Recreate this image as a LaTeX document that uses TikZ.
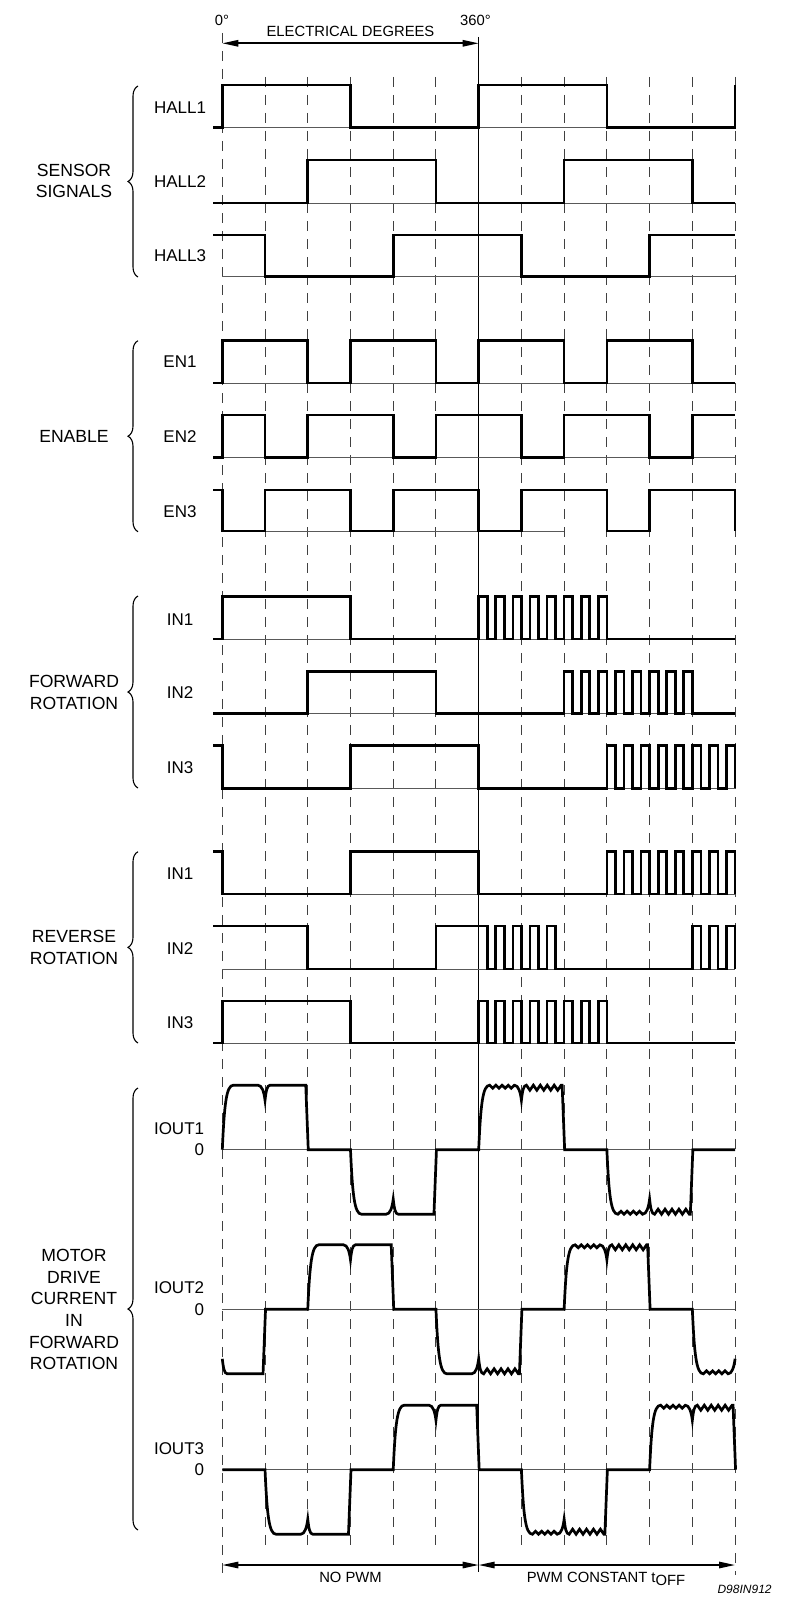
\documentclass[tikz,border=0pt]{standalone}
\usepackage{fontspec}
\setmainfont{Liberation Sans}
\usetikzlibrary{arrows.meta,decorations.pathreplacing}

% grid position of step k (60 electrical degrees per step)
\newcommand\X[1]{(222.3+42.73*(#1))}
\def\A{64.5}
\def\hp{8.546}
\def\za{1149.7}
\def\zb{1309.3}
\def\zc{1469.7}

% digital pulse train: #1 start step, #2 number of high pulses, #3 high y, #4 low y
\newcommand\Pwm[4]{\foreach \i in {1,...,#2}{ -| ({\X{#1}+(2*\i-2)*\hp},#3) -| ({\X{#1}+(2*\i-1)*\hp},#4) }}

% current pieces: k, sign (1 up / -1 down), zero level
\newcommand\Rise[3]{ .. controls ({\X{#1}+2},{#3-(#2)*0.7*\A}) and ({\X{#1}+4},{#3-(#2)*\A}) .. ({\X{#1}+11},{#3-(#2)*\A})}
\newcommand\DipA[3]{ -- ({\X{#1}-7},{#3-(#2)*\A}) .. controls ({\X{#1}-3},{#3-(#2)*\A}) and ({\X{#1}-1},{#3-(#2)*(\A-7)}) .. ({\X{#1}},{#3-(#2)*(\A-15)})}
\newcommand\DipB[3]{ .. controls ({\X{#1}+1},{#3-(#2)*(\A-6)}) and ({\X{#1}+2},{#3-(#2)*\A}) .. ({\X{#1}+5},{#3-(#2)*\A})}
\newcommand\Dip[3]{\DipA{#1}{#2}{#3}\DipB{#1}{#2}{#3}}
\newcommand\Fall[3]{ -- ({\X{#1}-2},{#3-(#2)*\A}) -- ({\X{#1}+0.5},#3)}
% ripple: x start, x end, teeth, amplitude, sign, zero level
\newcommand\Rip[6]{ -- ({#1},{#6-(#5)*\A}) \foreach \i in {1,...,#3}{ -- ++({((#2)-(#1))/(2*#3)},{(#5)*(#4)}) -- ++({((#2)-(#1))/(2*#3)},{-(#5)*(#4)}) }}

\tikzset{
  wave/.style={line width=1.35pt},
  baseln/.style={line width=0.5pt, black!65},
  gridln/.style={line width=0.5pt, black!75, dash pattern=on 5pt off 4pt},
  refln/.style={line width=0.5pt, black},
  lbl/.style={font=\fontsize{8.5}{10.2}\selectfont, inner sep=0pt, align=center},
  grp/.style={font=\fontsize{8.8}{10.83}\selectfont, inner sep=0pt, align=center},
  dimlbl/.style={font=\fontsize{7.4}{9}\selectfont, inner sep=0pt, align=center},
  brc/.style={decorate, decoration={brace, amplitude=5pt}, line width=0.55pt},
  dim/.style={line width=0.8pt, {Triangle[length=8pt,width=3.2pt]}-{Triangle[length=8pt,width=3.2pt]}},
}

\begin{document}
\begin{tikzpicture}[x=0.5pt,y=-0.5pt]
\useasboundingbox (0,0) rectangle (788,1600);
\fill[white] (0,0) rectangle (788,1600);

% ---------- grid ----------
\foreach \k in {1,2,3,4,5,7,8,9,10,11}
  \draw[gridln] ({\X{\k}},77) -- ({\X{\k}},1552);
\draw[gridln] ({\X{0}},33) -- ({\X{0}},1575);
\draw[gridln] ({\X{12}},77) -- ({\X{12}},1575);
\draw[refln] ({\X{6}},37) -- ({\X{6}},1572);

% ---------- top dimension ----------
\node[dimlbl] (t0) at (222,20.5) {0°};
\node[dimlbl] (t360) at (475.5,20.5) {360°};
\node[dimlbl] (ed) at (350.5,31) {ELECTRICAL DEGREES};
\coordinate (a0) at ({\X{0}},43.3);
\coordinate (a6) at ({\X{6}},43.3);
\draw[dim] (a0) -- (a6);

% ---------- baselines ----------
\foreach \y in {127.5,203,276.5,383,457.5,639,713.5,788.3,894,969,1043}
  \draw[baseln] ({\X{0}},\y) -- ({\X{12}},\y);
\draw[baseln] ({\X{0}},531) -- ({\X{8}},531);
\foreach \y in {\za,\zb,\zc}
  \draw[baseln] ({\X{0}},\y) -- ({\X{12}},\y);

% ---------- sensor signals ----------
\draw[wave] ({\X{0}-9},127.5) -| ({\X{0}},85) -| ({\X{3}},127.5) -| ({\X{6}},85) -| ({\X{9}},127.5) -| ({\X{12}},85);
\draw[wave] ({\X{0}-9},203) -| ({\X{2}},160) -| ({\X{5}},203) -| ({\X{8}},160) -| ({\X{11}},203) -- ({\X{12}},203);
\draw[wave] ({\X{0}-9},235) -| ({\X{1}},276.5) -| ({\X{4}},235) -| ({\X{7}},276.5) -| ({\X{10}},235) -- ({\X{12}},235);

% ---------- enable ----------
\draw[wave] ({\X{0}-9},383) -| ({\X{0}},340.5) -| ({\X{2}},383) -| ({\X{3}},340.5) -| ({\X{5}},383) -| ({\X{6}},340.5) -| ({\X{8}},383) -| ({\X{9}},340.5) -| ({\X{11}},383) -- ({\X{12}},383);
\draw[wave] ({\X{0}-9},457.5) -| ({\X{0}},415) -| ({\X{1}},457.5) -| ({\X{2}},415) -| ({\X{4}},457.5) -| ({\X{5}},415) -| ({\X{7}},457.5) -| ({\X{8}},415) -| ({\X{10}},457.5) -| ({\X{11}},415) -- ({\X{12}},415);
\draw[wave] ({\X{0}-9},490) -| ({\X{0}},531) -| ({\X{1}},490) -| ({\X{3}},531) -| ({\X{4}},490) -| ({\X{6}},531) -| ({\X{7}},490) -| ({\X{9}},531) -| ({\X{10}},490) -| ({\X{12}},531);

% ---------- forward rotation ----------
\draw[wave] ({\X{0}-9},639) -| ({\X{0}},596.5) -| ({\X{3}},639) \Pwm{6}{8}{596.5}{639} -- ({\X{12}},639);
\draw[wave] ({\X{0}-9},713.5) -| ({\X{2}},671.5) -| ({\X{5}},713.5) \Pwm{8}{8}{671.5}{713.5} -- ({\X{12}},713.5);
\draw[wave] ({\X{0}-9},745.3) -| ({\X{0}},788.3) -| ({\X{3}},745.3) -| ({\X{6}},788.3) \Pwm{9}{8}{745.3}{788.3};

% ---------- reverse rotation ----------
\draw[wave] ({\X{0}-9},851.5) -| ({\X{0}},894) -| ({\X{3}},851.5) -| ({\X{6}},894) \Pwm{9}{8}{851.5}{894};
\draw[wave] ({\X{0}-9},926) -| ({\X{2}},969) -| ({\X{5}},926) \Pwm{6}{5}{926}{969} -- ({\X{11}},969) \Pwm{11}{3}{926}{969};
\draw[wave] ({\X{0}-9},1043) -| ({\X{0}},1001) -| ({\X{3}},1043) \Pwm{6}{8}{1001}{1043} -- ({\X{12}},1043);

% ---------- motor currents ----------
\draw[wave] ({\X{0}},\za) \Rise{0}{1}{\za} \Dip{1}{1}{\za} \Fall{2}{1}{\za}
  -- ({\X{3}},\za) \Rise{3}{-1}{\za} \Dip{4}{-1}{\za} \Fall{5}{-1}{\za}
  -- ({\X{6}},\za) \Rise{6}{1}{\za} \Rip{\X{6}+11}{\X{7}-7}{4}{3}{1}{\za} \Dip{7}{1}{\za} \Rip{\X{7}+5}{\X{8}-3}{5}{5}{1}{\za} \Fall{8}{1}{\za}
  -- ({\X{9}},\za) \Rise{9}{-1}{\za} \Rip{\X{9}+11}{\X{10}-7}{4}{3}{-1}{\za} \Dip{10}{-1}{\za} \Rip{\X{10}+5}{\X{11}-3}{5}{5}{-1}{\za} \Fall{11}{-1}{\za}
  -- ({\X{12}},\za);

\draw[wave] ({\X{0}},{\zb+\A-15}) \DipB{0}{-1}{\zb} \Fall{1}{-1}{\zb}
  -- ({\X{2}},\zb) \Rise{2}{1}{\zb} \Dip{3}{1}{\zb} \Fall{4}{1}{\zb}
  -- ({\X{5}},\zb) \Rise{5}{-1}{\zb} \Dip{6}{-1}{\zb} \Rip{\X{6}+5}{\X{7}-3}{5}{5}{-1}{\zb} \Fall{7}{-1}{\zb}
  -- ({\X{8}},\zb) \Rise{8}{1}{\zb} \Rip{\X{8}+11}{\X{9}-7}{4}{3}{1}{\zb} \Dip{9}{1}{\zb} \Rip{\X{9}+5}{\X{10}-3}{5}{5}{1}{\zb} \Fall{10}{1}{\zb}
  -- ({\X{11}},\zb) \Rise{11}{-1}{\zb} \Rip{\X{11}+11}{\X{12}-7}{4}{3}{-1}{\zb} \DipA{12}{-1}{\zb};

\draw[wave] ({\X{0}},\zc) -- ({\X{1}},\zc) \Rise{1}{-1}{\zc} \Dip{2}{-1}{\zc} \Fall{3}{-1}{\zc}
  -- ({\X{4}},\zc) \Rise{4}{1}{\zc} \Dip{5}{1}{\zc} \Fall{6}{1}{\zc}
  -- ({\X{7}},\zc) \Rise{7}{-1}{\zc} \Rip{\X{7}+11}{\X{8}-7}{4}{3}{-1}{\zc} \Dip{8}{-1}{\zc} \Rip{\X{8}+5}{\X{9}-3}{5}{5}{-1}{\zc} \Fall{9}{-1}{\zc}
  -- ({\X{10}},\zc) \Rise{10}{1}{\zc} \Rip{\X{10}+11}{\X{11}-7}{4}{3}{1}{\zc} \Dip{11}{1}{\zc} \Rip{\X{11}+5}{\X{12}-3}{5}{5}{1}{\zc} \Fall{12}{1}{\zc};

% ---------- row labels ----------
\node[lbl] (h1) at (180,107.3) {HALL1};
\node[lbl] (h2) at (180,181.7) {HALL2};
\node[lbl] (h3) at (180,256) {HALL3};
\node[lbl] (e1) at (180,361.7) {EN1};
\node[lbl] (e2) at (180,436.7) {EN2};
\node[lbl] (e3) at (180,511.7) {EN3};
\node[lbl] (f1) at (180,619.3) {IN1};
\node[lbl] (f2) at (180,693) {IN2};
\node[lbl] (f3) at (180,767.3) {IN3};
\node[lbl] (r1) at (180,873.3) {IN1};
\node[lbl] (r2) at (180,948.3) {IN2};
\node[lbl] (r3) at (180,1022.7) {IN3};
\node[lbl,anchor=east] (o1) at (204.5,1128.3) {IOUT1};
\node[lbl,anchor=east] (z1) at (204.5,1149.5) {0};
\node[lbl,anchor=east] (o2) at (204.5,1287.7) {IOUT2};
\node[lbl,anchor=east] (z2) at (204.5,1309.3) {0};
\node[lbl,anchor=east] (o3) at (204.5,1448.3) {IOUT3};
\node[lbl,anchor=east] (z3) at (204.5,1469.7) {0};

% ---------- group labels and braces ----------
\node[grp] (gs) at (74,181) {SENSOR\\SIGNALS};
\node[grp] (ge) at (74,436) {ENABLE};
\node[grp] (gf) at (74,692.5) {FORWARD\\ROTATION};
\node[grp] (gr) at (74,947.5) {REVERSE\\ROTATION};
\node[grp] (gm) at (74,1309.5) {MOTOR\\DRIVE\\CURRENT\\IN\\FORWARD\\ROTATION};
\draw[brc] (138,277) -- (138,86);
\draw[brc] (138,531.7) -- (138,340.7);
\draw[brc] (138,788) -- (138,596);
\draw[brc] (138,1043) -- (138,851.7);
\draw[brc] (138,1530) -- (138,1088);

% ---------- bottom dimension ----------
\coordinate (b0) at ({\X{0}},1565);
\coordinate (b6) at ({\X{6}},1565);
\coordinate (b12) at ({\X{12}},1565);
\draw[dim] (b0) -- (b6);
\draw[dim] (b6) -- (b12);
\node[dimlbl] (np) at (350.5,1577) {NO PWM};
\node[dimlbl,anchor=base] (pc) at (606,1582) {PWM CONSTANT t\raisebox{-1.8pt}{OFF}};
\node[font=\fontsize{6}{7}\selectfont\itshape, inner sep=0pt, anchor=east] (code) at (772,1589) {D98IN912};
\end{tikzpicture}
\end{document}
